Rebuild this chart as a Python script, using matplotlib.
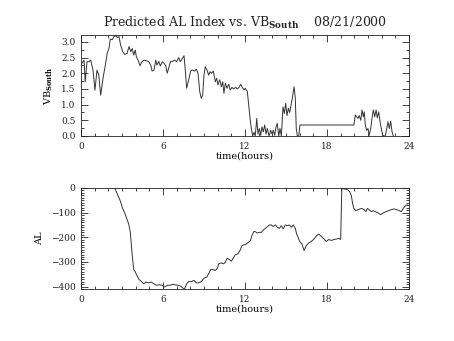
import numpy as np
import matplotlib
matplotlib.use("Agg")
import matplotlib.pyplot as plt
from matplotlib.ticker import MultipleLocator, FormatStrFormatter

plt.rcParams['font.family'] = 'DejaVu Serif'
plt.rcParams['mathtext.fontset'] = 'dejavuserif'
plt.rcParams['text.color'] = '#222222'

# southward IMF component (hours, value)
vb_hours = [0.07, 0.22, 0.31, 0.44, 0.59, 0.71, 0.88, 1.02, 1.17, 1.30,
            1.44, 1.61, 1.78, 1.92, 2.05, 2.14, 2.29, 2.41, 2.54, 2.66,
            2.78, 2.90, 3.05, 3.20, 3.37, 3.51, 3.64, 3.75, 3.86, 3.97,
            4.05, 4.17, 4.32, 4.46, 4.61, 4.78, 4.95, 5.10, 5.20, 5.34,
            5.47, 5.56, 5.69, 5.80, 5.95, 6.07, 6.20, 6.31, 6.44, 6.56,
            6.71, 6.86, 7.00, 7.15, 7.27, 7.41, 7.54, 7.66, 7.73, 7.88,
            8.03, 8.14,
            8.32, 8.44, 8.56, 8.69, 8.80, 8.90, 9.00, 9.09, 9.22, 9.34,
            9.44, 9.56, 9.68, 9.83, 9.93, 10.02, 10.15, 10.27, 10.37, 10.46,
            10.56, 10.68, 10.81, 10.92, 11.05, 11.17, 11.32, 11.44, 11.56, 11.69,
            11.80, 11.93, 12.02, 12.17, 12.27, 12.37, 12.46, 12.56, 12.66, 12.75,
            12.86, 12.95, 13.05, 13.15, 13.24, 13.34, 13.44, 13.54, 13.63, 13.76,
            13.88, 13.98, 14.07, 14.17, 14.27, 14.36, 14.47, 14.56, 14.66, 14.78,
            14.88, 14.98, 15.07, 15.17, 15.27, 15.37, 15.46, 15.59, 15.68, 15.75,
            15.83, 15.93, 16.02,
            19.97, 20.07, 20.17, 20.27, 20.36, 20.47, 20.56, 20.66, 20.73, 20.80,
            20.90, 21.00, 21.09, 21.20, 21.29, 21.39, 21.49, 21.59, 21.68, 21.78,
            21.88, 21.97, 22.08, 22.17, 22.27, 22.37, 22.46, 22.56, 22.66, 22.76,
            22.85]
vb_south = [2.32, 2.42, 1.73, 2.37, 2.37, 2.42, 2.10, 1.46, 2.10, 1.95,
            1.30, 1.84, 2.26, 2.64, 2.80, 3.09, 3.07, 3.17, 3.20, 3.14,
            3.17, 2.90, 2.69, 2.60, 2.63, 2.85, 2.69, 2.79, 2.58, 2.74,
            2.53, 2.42, 2.24, 2.37, 2.42, 2.40, 2.37, 2.26, 2.07, 2.10,
            2.42, 2.26, 2.38, 2.23, 2.37, 2.32, 2.24, 2.00, 2.21, 2.38,
            2.38, 2.42, 2.37, 2.50, 2.37, 2.47, 2.56, 1.94, 1.52, 1.79,
            2.07, 2.10,
            2.07, 2.13, 2.00, 1.41, 1.20, 1.30, 1.94, 2.21, 2.10, 1.94,
            2.05, 2.00, 2.07, 1.73, 1.84, 1.63, 1.79, 1.57, 1.73, 1.36,
            1.68, 1.52, 1.65, 1.47, 1.55, 1.50, 1.55, 1.50, 1.55, 1.65,
            1.55, 1.47, 1.52, 1.42, 0.99, 0.56, 0.24, 0.00, 0.12, 0.00,
            0.56, 0.06, 0.24, 0.02, 0.29, 0.13, 0.35, 0.06, 0.24, 0.00,
            0.18, 0.06, 0.18, 0.02, 0.29, 0.40, 0.00, 0.24, 0.00, 0.93,
            0.72, 1.04, 0.65, 0.88, 0.75, 0.99, 1.20, 1.57, 1.20, 0.24,
            0.00, 0.00, 0.35,
            0.35, 0.67, 0.61, 0.56, 0.65, 0.50, 0.83, 0.61, 0.77, 0.35,
            0.18, 0.24, 0.02, 0.24, 0.56, 0.83, 0.61, 0.83, 0.58, 0.77,
            0.45, 0.24, 0.02, 0.00, 0.00, 0.24, 0.45, 0.24, 0.47, 0.13,
            0.00]

# predicted AL index (hours, nT)
al_hours = [2.47, 2.66, 2.76, 2.90, 3.02, 3.20, 3.34, 3.49, 3.61, 3.68,
            3.75, 3.86, 3.97, 4.12, 4.24, 4.41, 4.59, 4.76, 4.95, 5.14,
            5.34, 5.54, 5.73, 5.93, 6.12, 6.31, 6.51, 6.71, 6.90, 7.10,
            7.29, 7.46, 7.59, 7.73, 7.88, 8.07,
            8.27, 8.44, 8.61, 8.80, 9.00, 9.20, 9.34, 9.49, 9.66, 9.83,
            9.97, 10.08, 10.27, 10.44, 10.56, 10.70, 10.85, 11.00, 11.14, 11.29,
            11.49, 11.63, 11.78, 11.93, 12.10, 12.27, 12.39, 12.51, 12.64, 12.75,
            12.90, 13.05, 13.19, 13.34, 13.49, 13.63, 13.78, 13.92, 14.07, 14.22,
            14.36, 14.51, 14.66, 14.80, 14.95, 15.09, 15.24, 15.39, 15.53, 15.68,
            15.78,
            15.91, 16.00, 16.17, 16.32, 16.46, 16.66, 16.85, 17.05, 17.25, 17.39,
            17.58, 17.78, 17.95, 18.12, 18.31, 18.51, 18.71, 18.86, 19.00, 19.08,
            19.29, 19.49, 19.66, 19.78, 19.88, 19.97, 20.10, 20.27, 20.41, 20.56,
            20.71, 20.85, 20.95, 21.09, 21.24, 21.39, 21.53, 21.73, 21.93, 22.12,
            22.32, 22.51, 22.70, 22.90, 23.10, 23.29, 23.44, 23.58, 23.73, 23.87]
al_index = [0, -25, -38, -56, -79, -102, -123, -146, -180, -227,
            -274, -331, -341, -358, -371, -379, -389, -382, -385, -382,
            -389, -395, -393, -395, -402, -395, -395, -391, -393, -395,
            -398, -407, -408, -389, -380, -380,
            -375, -385, -385, -380, -366, -362, -348, -331, -331, -335,
            -327, -308, -304, -308, -301, -285, -290, -297, -285, -271,
            -267, -254, -234, -231, -227, -220, -214, -193, -177, -177,
            -183, -180, -180, -171, -164, -157, -150, -150, -156, -150,
            -159, -164, -153, -166, -150, -153, -150, -159, -150, -164,
            -187,
            -204, -217, -227, -254, -236, -223, -217, -207, -193, -187,
            -196, -207, -217, -209, -213, -209, -207, -204, -209, -2,
            -4, -7, -15, -31, -65, -83, -92, -88, -85, -83,
            -88, -96, -83, -88, -96, -92, -96, -101, -108, -101,
            -96, -92, -88, -85, -88, -92, -96, -83, -72, -69]

hour_ticks = [0, 6, 12, 18, 24]

fig = plt.figure(figsize=(4.54, 3.41), dpi=100)
ax1 = fig.add_axes([0.1784, 0.6012, 0.7225, 0.2962])
ax2 = fig.add_axes([0.1784, 0.1525, 0.7225, 0.2962])

for ax in (ax1, ax2):
    ax.set_xlim(0, 24)
    ax.set_xticks(hour_ticks)
    ax.xaxis.set_minor_locator(MultipleLocator(1))
    ax.tick_params(which='both', direction='in', top=True, right=True,
                   labelsize=6.5, width=0.6, colors='#222222', pad=4)
    ax.tick_params(which='major', length=5)
    ax.tick_params(which='minor', length=2.5)
    for s in ax.spines.values():
        s.set_linewidth(0.6)
        s.set_color('#222222')
    ax.set_xlabel('time(hours)', fontsize=7, labelpad=1)

ax1.plot(vb_hours, vb_south, color='#333333', lw=0.7)
ax1.set_ylim(0, 3.22)
ax1.yaxis.set_major_locator(MultipleLocator(0.5))
ax1.yaxis.set_minor_locator(MultipleLocator(0.25))
ax1.yaxis.set_major_formatter(FormatStrFormatter('%.1f'))
ax1.set_ylabel(r'VB$_{\mathbf{South}}$', fontsize=7, labelpad=4)
ax1.set_title(r'Predicted AL Index vs. VB$_{\mathbf{South}}$    08/21/2000',
              fontsize=9, pad=6)

ax2.plot(al_hours, al_index, color='#333333', lw=0.7)
ax2.set_ylim(-410, 0)
ax2.yaxis.set_major_locator(MultipleLocator(100))
ax2.yaxis.set_minor_locator(MultipleLocator(10))
ax2.set_ylabel('AL', fontsize=7, labelpad=5)

fig.savefig('out.png', dpi=100)
